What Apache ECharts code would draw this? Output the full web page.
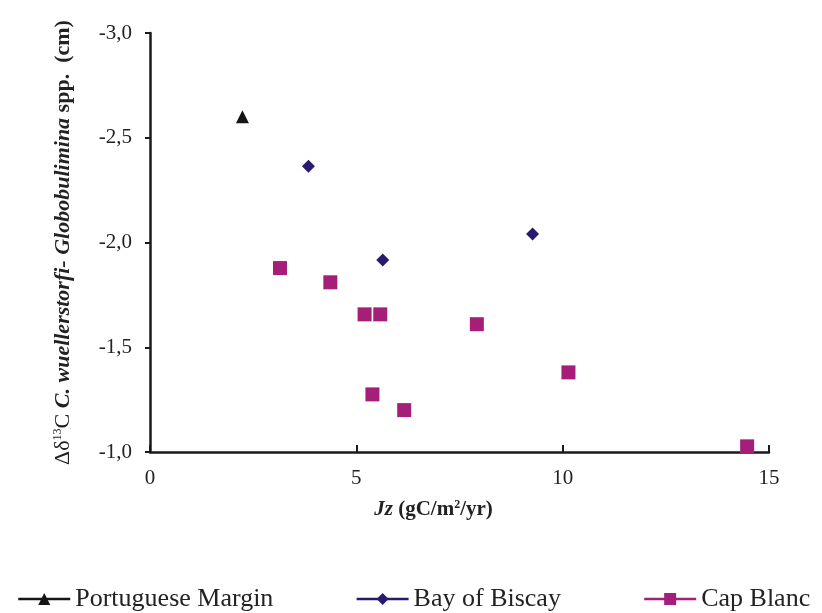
<!DOCTYPE html>
<html>
<head>
<meta charset="utf-8">
<script src="https://cdn.jsdelivr.net/npm/echarts@6/dist/echarts.min.js"></script>
<style>
html,body{margin:0;padding:0;background:#fff;}
#chart{width:822px;height:613px;}
</style>
</head>
<body>
<div id="chart"></div>
<script>
var seriesNames = ['Portuguese Margin', 'Bay of Biscay', 'Cap Blanc'];
var portugueseMargin = [[2.24, -2.60]];
var bayOfBiscay = [[3.84, -2.364], [5.64, -1.916], [9.27, -2.04]];
var capBlanc = [[3.15, -1.878], [4.37, -1.81], [5.20, -1.657], [5.58, -1.657], [7.92, -1.61], [10.14, -1.38], [5.39, -1.275], [6.16, -1.2], [14.47, -1.027]];
var xTicks = [0, 5, 10, 15];
var yTicks = [-3.0, -2.5, -2.0, -1.5, -1.0];

var FONT = '"Liberation Serif", "DejaVu Serif", serif';
var chart = echarts.init(document.getElementById('chart'), null, {renderer: 'canvas'});

function mk(name, data, symbol, size, color) {
  return {
    name: name,
    type: 'line',
    data: data,
    symbol: symbol,
    symbolSize: size,
    showSymbol: true,
    showAllSymbol: true,
    lineStyle: {color: color, width: 2.5, opacity: 0},
    itemStyle: {color: color},
    emphasis: {disabled: true},
    z: 3
  };
}

chart.setOption({
  animation: false,
  backgroundColor: '#ffffff',
  grid: {left: 150, right: 53, top: 33, bottom: 161, containLabel: false},
  xAxis: {
    type: 'value',
    min: xTicks[0], max: xTicks[xTicks.length - 1], interval: 5,
    axisLine: {show: true, onZero: false, lineStyle: {color: '#1a1a1a', width: 2.5}},
    axisTick: {show: true, inside: true, length: 7, lineStyle: {color: '#1a1a1a', width: 2}},
    splitLine: {show: false},
    axisLabel: {fontFamily: FONT, fontSize: 21, color: '#222', margin: 16},
    name: '{bi|Jz}{b| (gC/m}{sup|2}{b|/yr)}',
    nameLocation: 'middle',
    nameGap: 47,
    nameTextStyle: {
      padding: [0, 52, 0, 0],
      rich: {
        bi: {fontFamily: FONT, fontSize: 21, fontWeight: 'bold', fontStyle: 'italic', color: '#222'},
        b: {fontFamily: FONT, fontSize: 21, fontWeight: 'bold', color: '#222'},
        sup: {fontFamily: FONT, fontSize: 12, fontWeight: 'bold', color: '#222', padding: [0, 0, 9, 0]}
      }
    }
  },
  yAxis: {
    type: 'value',
    inverse: true,
    min: yTicks[0], max: yTicks[yTicks.length - 1], interval: 0.5,
    axisLine: {show: true, onZero: false, lineStyle: {color: '#1a1a1a', width: 2.5}},
    axisTick: {show: true, inside: false, length: 5, lineStyle: {color: '#1a1a1a', width: 2}},
    splitLine: {show: false},
    axisLabel: {
      fontFamily: FONT, fontSize: 21, color: '#222', margin: 18,
      formatter: function (v) { return v.toFixed(1).replace('.', ','); }
    },
    name: '{n|Δδ}{sup|13}{n|C }{bi|C. wuellerstorfi- Globobulimina}{b| spp.  (cm)}',
    nameLocation: 'middle',
    nameRotate: 90,
    nameGap: 76,
    nameTextStyle: {
      rich: {
        n: {fontFamily: FONT, fontSize: 22, color: '#222'},
        bi: {fontFamily: FONT, fontSize: 22, fontWeight: 'bold', fontStyle: 'italic', color: '#222'},
        b: {fontFamily: FONT, fontSize: 22, fontWeight: 'bold', color: '#222'},
        sup: {fontFamily: FONT, fontSize: 12, color: '#222', padding: [0, 0, 10, 0]}
      }
    }
  },
  legend: {
    data: seriesNames,
    left: 12,
    top: 581,
    width: 900,
    itemWidth: 52,
    itemHeight: 15,
    itemGap: 82,
    selectedMode: false,
    lineStyle: {width: 2.5, opacity: 1},
    textStyle: {fontFamily: FONT, fontSize: 26, color: '#222'}
  },
  series: [
    mk(seriesNames[0], portugueseMargin, 'triangle', 13, '#151515'),
    mk(seriesNames[1], bayOfBiscay, 'diamond', 13, '#2a1a6e'),
    mk(seriesNames[2], capBlanc, 'rect', 14, '#a51f7a')
  ]
});
</script>
</body>
</html>
